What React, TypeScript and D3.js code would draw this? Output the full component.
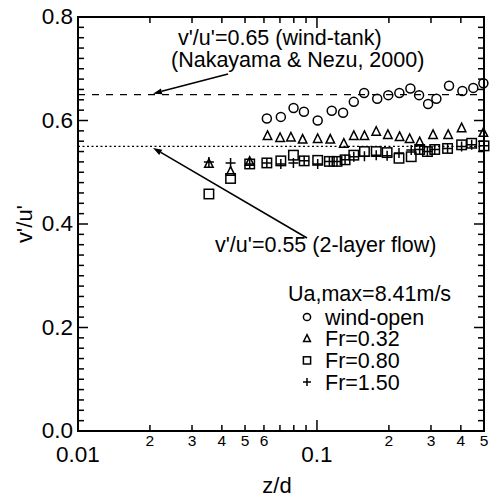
import React from "react";
import * as d3 from "d3";

// ---- data ----
const windOpenZ = [0.0617, 0.0706, 0.0798, 0.0882, 0.1007, 0.1153, 0.1286, 0.1426, 0.1575, 0.1787, 0.1988, 0.2212, 0.246, 0.2675, 0.2918, 0.316, 0.357, 0.406, 0.451, 0.497];
const windOpenV = [0.604, 0.607, 0.624, 0.617, 0.6, 0.619, 0.615, 0.636, 0.653, 0.642, 0.649, 0.653, 0.662, 0.649, 0.632, 0.642, 0.667, 0.657, 0.663, 0.672];

const fr032Z = [0.0353, 0.0435, 0.0523, 0.0621, 0.0701, 0.0778, 0.0871, 0.1007, 0.1137, 0.1295, 0.1426, 0.158, 0.177, 0.198, 0.2217, 0.2443, 0.269, 0.306, 0.354, 0.403, 0.497];
const fr032V = [0.516, 0.501, 0.52, 0.57, 0.566, 0.567, 0.563, 0.564, 0.563, 0.555, 0.57, 0.57, 0.578, 0.572, 0.568, 0.564, 0.558, 0.572, 0.572, 0.585, 0.576];

const fr080Z = [0.0353, 0.0435, 0.0523, 0.0617, 0.0706, 0.0797, 0.0884, 0.1007, 0.1127, 0.1213, 0.1311, 0.1426, 0.158, 0.177, 0.1966, 0.2204, 0.248, 0.269, 0.2899, 0.311, 0.352, 0.403, 0.444, 0.5];
const fr080V = [0.458, 0.488, 0.516, 0.518, 0.522, 0.533, 0.522, 0.523, 0.521, 0.521, 0.524, 0.533, 0.54, 0.54, 0.538, 0.527, 0.53, 0.544, 0.54, 0.544, 0.546, 0.553, 0.556, 0.551];

const fr150Z = [0.0353, 0.0435, 0.0523, 0.0617, 0.0706, 0.0797, 0.0884, 0.1007, 0.1127, 0.1213, 0.1311, 0.1426, 0.158, 0.177, 0.1966, 0.2204, 0.248, 0.269, 0.2899, 0.311, 0.352, 0.403, 0.444, 0.5];
const fr150V = [0.52, 0.518, 0.516, 0.518, 0.516, 0.518, 0.522, 0.516, 0.521, 0.521, 0.524, 0.53, 0.531, 0.533, 0.532, 0.537, 0.543, 0.544, 0.54, 0.544, 0.546, 0.55, 0.553, 0.551];

const yTicks = [0, 0.2, 0.4, 0.6, 0.8];
const yTickLabels = ["0.0", "0.2", "0.4", "0.6", "0.8"];
const xMajor = [0.01, 0.1];
const xMajorLabels = ["0.01", "0.1"];
const xMinorLabeled = [0.02, 0.03, 0.04, 0.05, 0.06, 0.2, 0.3, 0.4, 0.5];
const xMinorLabels = ["2", "3", "4", "5", "6", "2", "3", "4", "5"];
const xMinorAll = [0.02, 0.03, 0.04, 0.05, 0.06, 0.07, 0.08, 0.09, 0.2, 0.3, 0.4, 0.5];

const refLines = [0.65, 0.55];
const legendTitle = "Ua,max=8.41m/s";
const legendNames = ["wind-open", "Fr=0.32", "Fr=0.80", "Fr=1.50"];

const FONT = "'Liberation Sans', Arial, Helvetica, sans-serif";

type Kind = "circle" | "triangle" | "square" | "plus";

function Marker({ kind, x, y, s }: { kind: Kind; x: number; y: number; s: number }) {
  const common = { fill: "none", stroke: "#000", strokeWidth: 1.5 };
  if (kind === "circle") return <circle cx={x} cy={y} r={s * 0.45} {...common} />;
  if (kind === "square")
    return <rect x={x - s * 0.45} y={y - s * 0.45} width={s * 0.9} height={s * 0.9} {...common} />;
  if (kind === "triangle") {
    const h = s * 0.85;
    const w = s * 0.85;
    return (
      <path
        d={`M${x},${y - h * 0.6} L${x + w / 2},${y + h * 0.4} L${x - w / 2},${y + h * 0.4} Z`}
        {...common}
      />
    );
  }
  return (
    <path d={`M${x - s / 2},${y} H${x + s / 2} M${x},${y - s / 2} V${y + s / 2}`} {...common} />
  );
}

export default function App() {
  const left = 78, right = 484, top = 17, bottom = 431;
  const x = d3.scaleLog().domain([0.01, 0.5]).range([left, right]);
  const y = d3.scaleLinear().domain([0, 0.8]).range([bottom, top]);

  const yMinor = d3.range(0, 0.8001, 0.02).map((v) => Math.round(v * 100) / 100);

  const series: { z: number[]; v: number[]; kind: Kind; s: number }[] = [
    { z: windOpenZ, v: windOpenV, kind: "circle", s: 10 },
    { z: fr032Z, v: fr032V, kind: "triangle", s: 10 },
    { z: fr080Z, v: fr080V, kind: "square", s: 10.5 },
    { z: fr150Z, v: fr150V, kind: "plus", s: 10 },
  ];
  const legendKinds: Kind[] = ["circle", "triangle", "square", "plus"];

  const arrow = (x1: number, y1: number, x2: number, y2: number) => {
    const ang = Math.atan2(y2 - y1, x2 - x1);
    const L = 9, W = 3;
    const bx = x2 - L * Math.cos(ang), by = y2 - L * Math.sin(ang);
    const px = -Math.sin(ang) * W, py = Math.cos(ang) * W;
    return (
      <g>
        <line x1={x1} y1={y1} x2={bx} y2={by} stroke="#000" strokeWidth={1.6} />
        <path d={`M${x2},${y2} L${bx + px},${by + py} L${bx - px},${by - py} Z`} fill="#000" />
      </g>
    );
  };

  return (
    <svg
      width={499}
      height={501}
      style={{ position: "absolute", left: 0, top: 0, background: "#fff" }}
      fontFamily={FONT}
    >
      <rect x={0} y={0} width={499} height={501} fill="#fff" />
      {/* reference lines */}
      <line x1={left} x2={right} y1={y(refLines[0])} y2={y(refLines[0])} stroke="#000" strokeWidth={1.3} strokeDasharray="7,7" />
      <line x1={left} x2={right} y1={y(refLines[1])} y2={y(refLines[1])} stroke="#000" strokeWidth={1.3} strokeDasharray="2,2.5" />

      {/* y ticks */}
      {yMinor.map((v) => {
        const major = yTicks.some((t) => Math.abs(t - v) < 1e-6);
        const len = major ? 10 : 6;
        return (
          <g key={"yt" + v}>
            <line x1={left} x2={left + len} y1={y(v)} y2={y(v)} stroke="#000" strokeWidth={1.5} />
            <line x1={right} x2={right - len} y1={y(v)} y2={y(v)} stroke="#000" strokeWidth={1.5} />
          </g>
        );
      })}
      {/* x ticks */}
      {xMinorAll.map((v) => (
        <g key={"xt" + v}>
          <line x1={x(v)} x2={x(v)} y1={bottom} y2={bottom - 6} stroke="#000" strokeWidth={1.5} />
          <line x1={x(v)} x2={x(v)} y1={top} y2={top + 6} stroke="#000" strokeWidth={1.5} />
        </g>
      ))}
      {xMajor.map((v) => (
        <g key={"xM" + v}>
          <line x1={x(v)} x2={x(v)} y1={bottom} y2={bottom - 11} stroke="#000" strokeWidth={1.5} />
          <line x1={x(v)} x2={x(v)} y1={top} y2={top + 11} stroke="#000" strokeWidth={1.5} />
        </g>
      ))}
      {/* frame */}
      <rect x={left} y={top} width={right - left} height={bottom - top} fill="none" stroke="#000" strokeWidth={2} />

      {/* y labels */}
      {yTicks.map((v, i) => (
        <text key={"yl" + v} x={left - 5} y={y(v) + 7} textAnchor="end" fontSize={22.5}>
          {yTickLabels[i]}
        </text>
      ))}
      {/* x labels */}
      {xMinorLabeled.map((v, i) => (
        <text key={"xl" + v} x={x(v)} y={446} textAnchor="middle" fontSize={15.5}>
          {xMinorLabels[i]}
        </text>
      ))}
      {xMajor.map((v, i) => (
        <text key={"xL" + v} x={x(v)} y={462} textAnchor="middle" fontSize={22.5}>
          {xMajorLabels[i]}
        </text>
      ))}
      <text x={(left + right) / 2 - 4} y={493} textAnchor="middle" fontSize={22}>z/d</text>
      <text transform={`translate(32,${y(0.4)}) rotate(-90)`} textAnchor="middle" fontSize={22}>v'/u'</text>

      {/* annotations */}
      <text x={178} y={45} fontSize={21.5}>v'/u'=0.65 (wind-tank)</text>
      <text x={171} y={67} fontSize={21.5}>(Nakayama &amp; Nezu, 2000)</text>
      {arrow(228, 74, 153, y(refLines[0]) - 1)}
      {arrow(307, 238, 153, y(refLines[1]) + 1.5)}
      <text x={215} y={252} fontSize={21.5}>v'/u'=0.55 (2-layer flow)</text>

      {/* data */}
      {series.map((s, si) => (
        <g key={"s" + si}>
          {s.z.map((z, i) => (
            <Marker key={i} kind={s.kind} x={x(z)} y={y(s.v[i])} s={s.s} />
          ))}
        </g>
      ))}

      {/* legend */}
      <text x={288} y={301} fontSize={21.5}>{legendTitle}</text>
      {legendNames.map((n, i) => (
        <g key={"lg" + i}>
          <Marker kind={legendKinds[i]} x={307} y={317 + i * 21.7} s={8} />
          <text x={325} y={324.5 + i * 21.7} fontSize={21.5}>{n}</text>
        </g>
      ))}
    </svg>
  );
}
